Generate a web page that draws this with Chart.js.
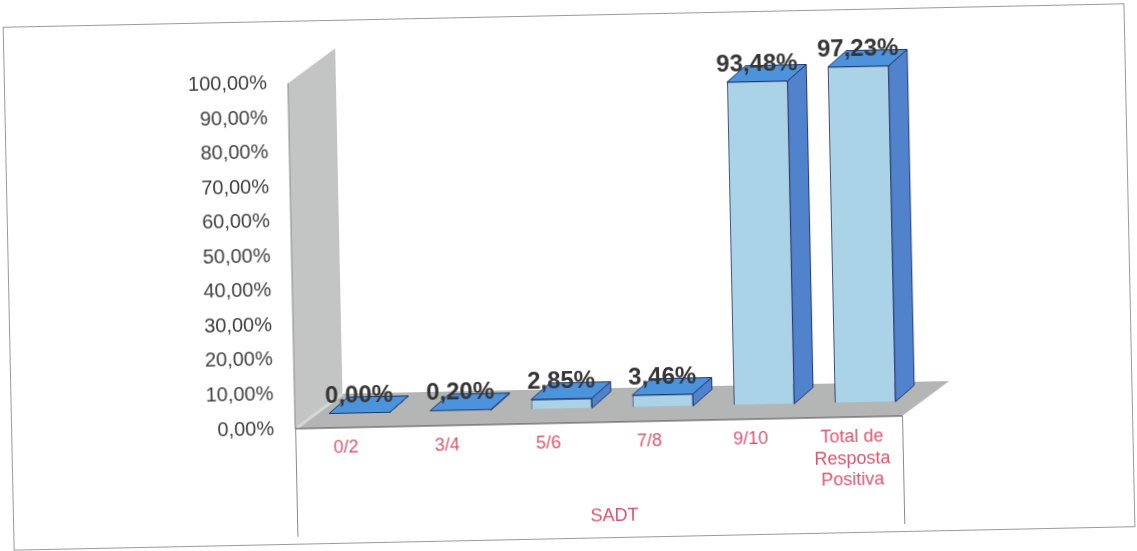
<!DOCTYPE html>
<html>
<head>
<meta charset="utf-8">
<script src="https://cdn.jsdelivr.net/npm/chart.js@4.4.0/dist/chart.umd.min.js"></script>
<style>
    html, body { margin: 0; padding: 0; background: #fff; overflow: hidden; }
    #wrap { width: 1137px; height: 551px; transform: rotate(-1.2deg); transform-origin: 568px 275px; }
</style>
</head>
<body>
<div id="wrap"><canvas id="grafico" width="1137" height="551"></canvas></div>
<script>
// dados
let categorias = ["0/2", "3/4", "5/6", "7/8", "9/10", ["Total de", "Resposta", "Positiva"]];
let valores = [0.00, 0.20, 2.85, 3.46, 93.48, 97.23];
let tituloEixo = "SADT";

let fonte = "'Liberation Sans', Arial, sans-serif";
let corRotulo = "#d9536f";

// deslocamentos do efeito 3D (plano frontal e profundidade)
let frente = {x: -14, y: 14.5};
let profBarra = {x: 19, y: -16};
let profParede = {x: 48, y: -34};

function formatarPct(v) {
    return v.toFixed(2).replace(".", ",") + "%";
}

let moldura = {
    id: "moldura",
    beforeDraw(chart) {
        let ctx = chart.ctx;
        ctx.save();
        ctx.strokeStyle = "#9a9a9a";
        ctx.lineWidth = 1;
        ctx.strokeRect(8.5, 15.5, chart.width - 16, chart.height - 28);
        ctx.restore();
    }
};

let paredeEChao = {
    id: "paredeEChao",
    beforeDatasetsDraw(chart) {
        let ctx = chart.ctx;
        let sx = chart.scales.x, sy = chart.scales.y;
        let fl = sx.left + frente.x, fr = sx.right + frente.x;
        let fb = sy.getPixelForValue(0) + frente.y;
        let ft = sy.getPixelForValue(100) + frente.y;
        let dx = profParede.x, dy = profParede.y;
        ctx.save();
        // parede
        ctx.fillStyle = "#c3c5c5";
        ctx.beginPath();
        ctx.moveTo(fl, ft);
        ctx.lineTo(fl + dx, ft + dy);
        ctx.lineTo(fl + dx, fb + dy);
        ctx.lineTo(fl, fb);
        ctx.closePath();
        ctx.fill();
        // chao
        ctx.fillStyle = "#b4b6b6";
        ctx.beginPath();
        ctx.moveTo(fl, fb);
        ctx.lineTo(fr, fb);
        ctx.lineTo(fr + dx, fb + dy);
        ctx.lineTo(fl + dx, fb + dy);
        ctx.closePath();
        ctx.fill();
        // canto claro
        ctx.strokeStyle = "#d6d8d8";
        ctx.lineWidth = 3;
        ctx.beginPath();
        ctx.moveTo(fl + 2, fb - 1);
        ctx.lineTo(fl + dx, fb + dy);
        ctx.stroke();
        // bordas
        ctx.strokeStyle = "#8a8a8a";
        ctx.lineWidth = 1;
        ctx.beginPath();
        ctx.moveTo(fl, ft);
        ctx.lineTo(fl, fb);
        ctx.stroke();
        ctx.strokeStyle = "#4a4a4a";
        ctx.beginPath();
        ctx.moveTo(fl, fb);
        ctx.lineTo(fr, fb);
        ctx.stroke();
        // separadores do eixo de categorias
        ctx.strokeStyle = "#8a8a8a";
        ctx.beginPath();
        ctx.moveTo(fl + 0.5, fb);
        ctx.lineTo(fl + 0.5, fb + 108);
        ctx.moveTo(fr + 0.5, fb);
        ctx.lineTo(fr + 0.5, fb + 108);
        ctx.stroke();
        ctx.restore();
    }
};

let barras3d = {
    id: "barras3d",
    afterDatasetsDraw(chart) {
        let ctx = chart.ctx;
        let meta = chart.getDatasetMeta(0);
        let dx = profBarra.x, dy = profBarra.y;
        ctx.save();
        ctx.lineWidth = 1;
        ctx.strokeStyle = "#22356b";
        meta.data.forEach((bar, i) => {
            let p = bar.getProps(["x", "y", "base", "width"], true);
            let l = p.x - p.width / 2, r = p.x + p.width / 2;
            // lateral
            ctx.fillStyle = "#5083cc";
            ctx.beginPath();
            ctx.moveTo(r, p.y);
            ctx.lineTo(r + dx, p.y + dy);
            ctx.lineTo(r + dx, p.base + dy);
            ctx.lineTo(r, p.base);
            ctx.closePath();
            ctx.fill();
            ctx.stroke();
            // topo
            ctx.fillStyle = "#4c93dd";
            ctx.beginPath();
            ctx.moveTo(l, p.y);
            ctx.lineTo(l + dx, p.y + dy);
            ctx.lineTo(r + dx, p.y + dy);
            ctx.lineTo(r, p.y);
            ctx.closePath();
            ctx.fill();
            ctx.stroke();
            // rotulo de valor
            ctx.fillStyle = "#353535";
            ctx.font = "bold 24px " + fonte;
            ctx.textAlign = "center";
            ctx.textBaseline = "alphabetic";
            ctx.fillText(formatarPct(valores[i]), p.x, p.y - 10.5);
        });
        ctx.restore();
    }
};

new Chart("grafico", {
    type: "bar",
    data: {
        labels: categorias,
        datasets: [{
            data: valores,
            backgroundColor: "#abd3e8",
            borderColor: "#22356b",
            borderWidth: 1,
            barPercentage: 0.6,
            categoryPercentage: 1
        }]
    },
    options: {
        responsive: false,
        animation: false,
        devicePixelRatio: 1,
        layout: {
            padding: {top: 63, right: 224, bottom: 0, left: 0}
        },
        plugins: {
            legend: {display: false},
            tooltip: {enabled: false}
        },
        scales: {
            x: {
                grid: {display: false, drawTicks: false},
                border: {display: false},
                ticks: {
                    color: corRotulo,
                    font: {family: fonte, size: 18},
                    padding: 23.7,
                    labelOffset: frente.x,
                    maxRotation: 0,
                    autoSkip: false
                },
                title: {
                    display: true,
                    text: tituloEixo,
                    color: corRotulo,
                    font: {family: fonte, size: 18},
                    padding: {top: 0, bottom: 22.7}
                },
                afterFit(scale) { scale.height = 142.5; }
            },
            y: {
                min: 0,
                max: 100,
                grid: {display: false, drawTicks: false},
                border: {display: false},
                ticks: {
                    stepSize: 10,
                    color: "#3f3f3f",
                    font: {family: fonte, size: 20},
                    padding: 35,
                    labelOffset: frente.y,
                    callback: (v) => formatarPct(v)
                },
                afterFit(scale) { scale.width = 306; }
            }
        }
    },
    plugins: [moldura, paredeEChao, barras3d]
});
</script>
</body>
</html>
